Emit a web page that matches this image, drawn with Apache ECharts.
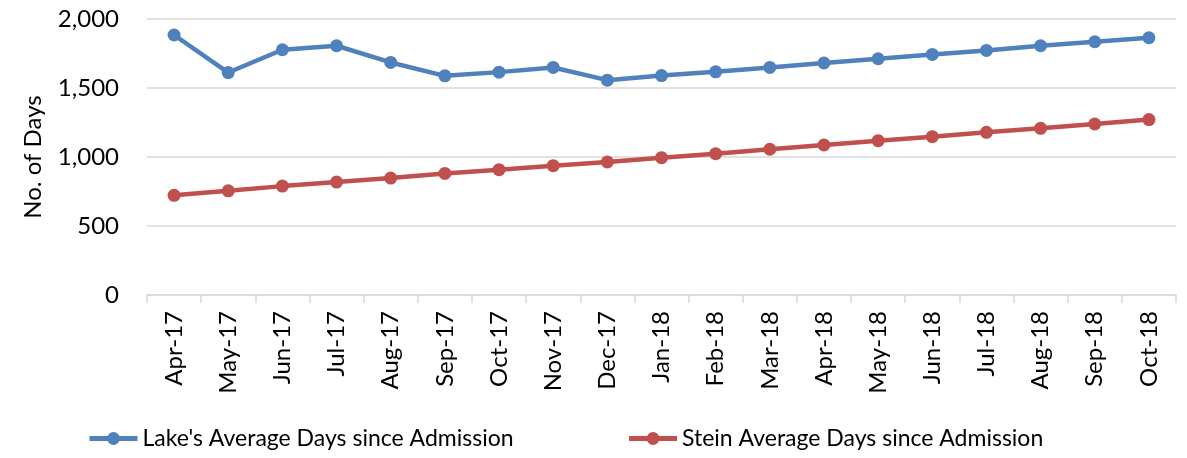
<!DOCTYPE html>
<html><head><meta charset="utf-8">
<script src="https://cdn.jsdelivr.net/npm/echarts@6/dist/echarts.min.js"></script>
<style>html,body{margin:0;padding:0;background:#fff}#c{width:1187px;height:458px}</style>
</head><body><div id="c"></div>
<script>
const categories = ['Apr-17','May-17','Jun-17','Jul-17','Aug-17','Sep-17','Oct-17','Nov-17','Dec-17','Jan-18','Feb-18','Mar-18','Apr-18','May-18','Jun-18','Jul-18','Aug-18','Sep-18','Oct-18'];
const lakeValues = [1884,1612,1777,1806,1685,1588,1615,1649,1557,1590,1617,1649,1681,1712,1743,1772,1806,1835,1864];
const steinValues = [722,755,789,818,847,881,908,937,964,995,1024,1056,1087,1118,1147,1179,1208,1239,1271];
const seriesNames = ["Lake's Average Days since Admission", "Stein Average Days since Admission"];
const yAxisTitle = 'No. of Days';

const font = 'Lato, "Open Sans", sans-serif';
const chart = echarts.init(document.getElementById('c'));
chart.setOption({
  animation: false,
  grid: {left: 147, right: 11, top: 19, bottom: 163},
  legend: {
    bottom: 3, left: 82, itemWidth: 48, itemHeight: 16, itemGap: 113,
    lineStyle: {width: 5},
    textStyle: {fontFamily: font, fontSize: 23, color: '#000'},
    data: seriesNames
  },
  xAxis: {
    type: 'category', data: categories, boundaryGap: true,
    axisLine: {lineStyle: {color: '#d9d9d9', width: 1.5}},
    axisTick: {show: true, length: 8, lineStyle: {color: '#d9d9d9', width: 1.5}},
    axisLabel: {rotate: 90, interval: 0, margin: 16, fontFamily: font, fontSize: 24, color: '#000'}
  },
  yAxis: {
    type: 'value', min: 0, max: 2000, interval: 500,
    name: yAxisTitle, nameLocation: 'middle', nameGap: 102,
    nameTextStyle: {fontFamily: font, fontSize: 24, color: '#000'},
    axisLine: {show: false}, axisTick: {show: false},
    splitLine: {lineStyle: {color: '#d9d9d9', width: 1.5}},
    axisLabel: {margin: 28, fontFamily: font, fontSize: 24, color: '#000',
      formatter: v => v.toLocaleString('en-US')}
  },
  series: [
    {name: seriesNames[0], type: 'line', data: lakeValues, symbol: 'circle', symbolSize: 13,
     lineStyle: {width: 4.5, color: '#4F81BD'}, itemStyle: {color: '#4F81BD'}},
    {name: seriesNames[1], type: 'line', data: steinValues, symbol: 'circle', symbolSize: 13,
     lineStyle: {width: 4.5, color: '#C0504D'}, itemStyle: {color: '#C0504D'}}
  ]
});
</script></body></html>
